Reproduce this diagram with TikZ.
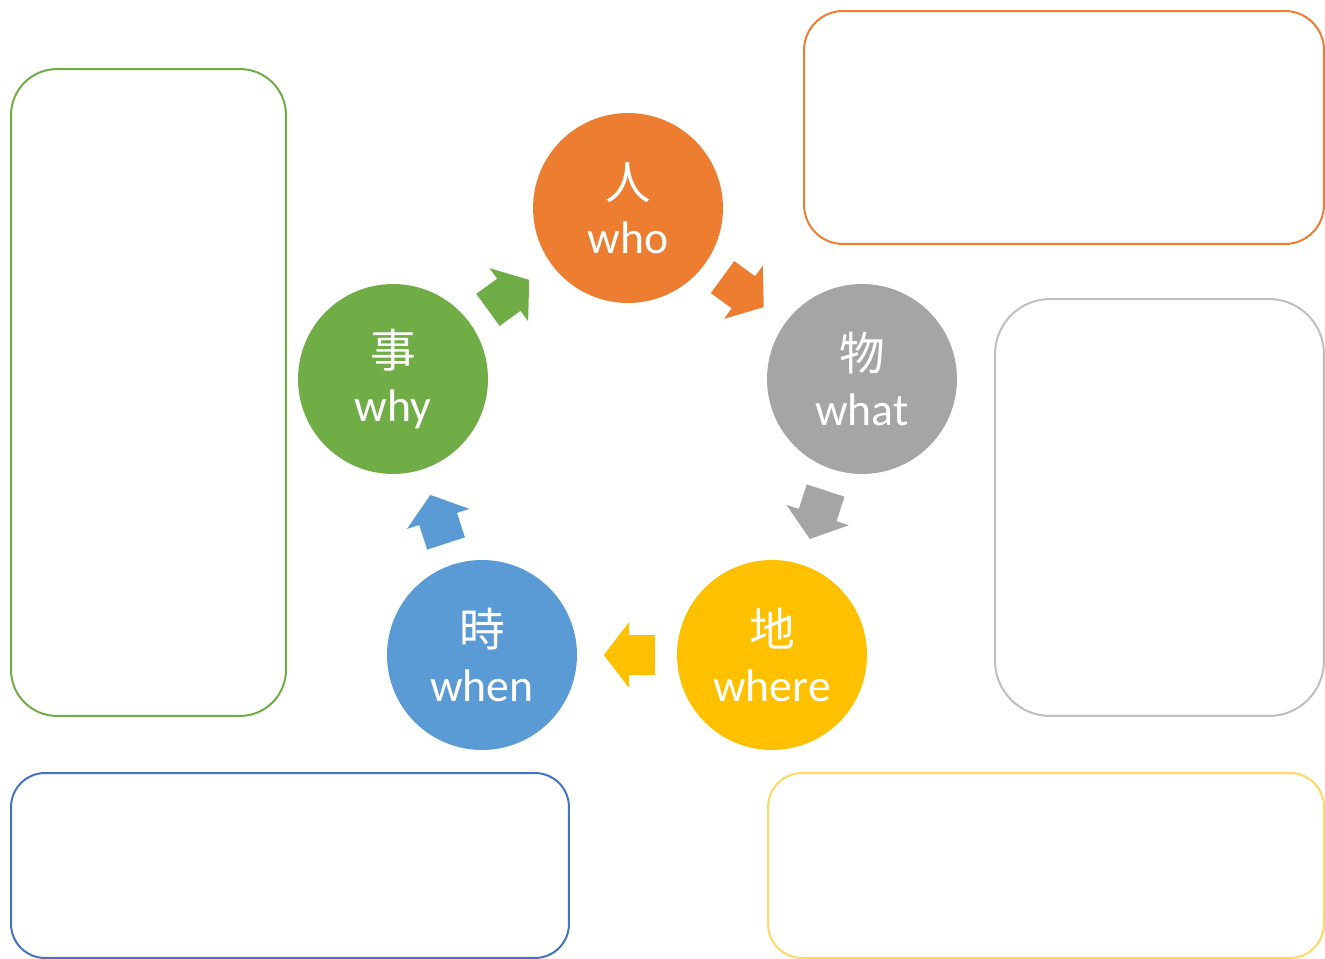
\documentclass[tikz,border=0pt]{standalone}
\usepackage{fontspec}
\setmainfont{Carlito}
\newfontfamily\cjk{Noto Sans CJK JP}
\usepackage{tikz}
\usetikzlibrary{shapes.arrows}
\definecolor{corange}{HTML}{ED7D31}
\definecolor{cgray}{HTML}{A5A5A5}
\definecolor{cyellow}{HTML}{FFC000}
\definecolor{cblue}{HTML}{5B9BD5}
\definecolor{cgreen}{HTML}{70AD47}
\definecolor{lgray}{HTML}{BFBFBF}
\definecolor{lblue}{HTML}{4472C4}
\definecolor{lyellow}{HTML}{FFD966}
\tikzstyle{circ} = [circle, minimum size=3.8cm, inner sep=0, text=white,
    align=center, font=\fontsize{26}{31}\selectfont]
\tikzstyle{cyclearrow} = [single arrow, minimum height=1.02cm,
    single arrow head extend=0.26cm, single arrow tip angle=105,
    inner xsep=0, inner ysep=0.39cm, sloped, allow upside down, pos=0.4]
\tikzstyle{panel} = [draw, rectangle, line width=0.04cm, fill=white]

\begin{document}
\begin{tikzpicture}[x=0.02cm, y=-0.02cm]
    \useasboundingbox (0,0) rectangle (1325,959);

    \node [panel, draw=cgreen, minimum width=5.5cm, minimum height=12.94cm, rounded corners=0.92cm] (whybox) at (148.5,392.5) {};
    \node [panel, draw=corange, minimum width=10.4cm, minimum height=4.66cm, rounded corners=0.78cm] (whobox) at (1064,127.5) {};
    \node [panel, draw=lgray, minimum width=6.58cm, minimum height=8.34cm, rounded corners=1.1cm] (whatbox) at (1159.5,507.5) {};
    \node [panel, draw=lblue, minimum width=11.16cm, minimum height=3.7cm, rounded corners=0.68cm] (whenbox) at (290,865.5) {};
    \node [panel, draw=lyellow, minimum width=11.12cm, minimum height=3.7cm, rounded corners=0.68cm] (wherebox) at (1046,865.5) {};

    \node [circ, fill=corange] (who) at (628,208) {{\cjk 人}\\who};
    \node [circ, fill=cgray] (what) at (862,379) {{\cjk 物}\\what};
    \node [circ, fill=cyellow] (where) at (772,655) {{\cjk 地}\\where};
    \node [circ, fill=cblue] (when) at (482,655) {{\cjk 時}\\when};
    \node [circ, fill=cgreen] (why) at (393,379) {{\cjk 事}\\why};

    \path (who) -- node [cyclearrow, fill=corange] (who2what) {} (what);
    \path (what) -- node [cyclearrow, fill=cgray] (what2where) {} (where);
    \path (where) -- node [cyclearrow, fill=cyellow] (where2when) {} (when);
    \path (when) -- node [cyclearrow, fill=cblue] (when2why) {} (why);
    \path (why) -- node [cyclearrow, fill=cgreen] (why2who) {} (who);

\end{tikzpicture}
\end{document}
